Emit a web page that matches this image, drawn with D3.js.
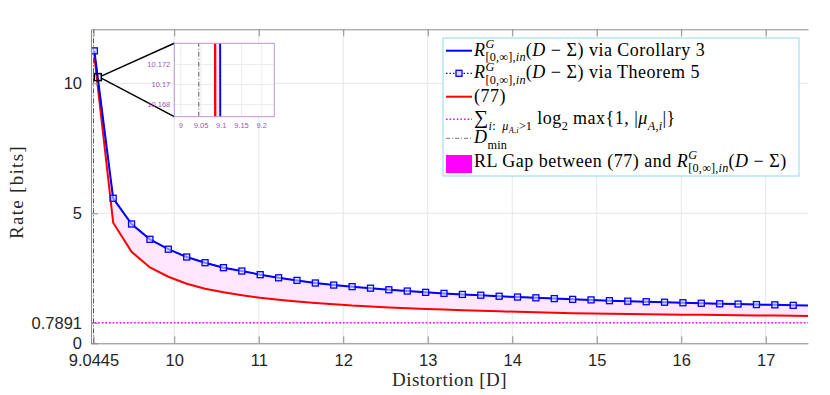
<!DOCTYPE html>
<html><head><meta charset="utf-8">
<script src="https://cdn.jsdelivr.net/npm/d3@7"></script>
<style>body{margin:0;background:#fff} svg{display:block} text{white-space:pre}</style>
</head><body>
<svg id="chart" width="830" height="395"></svg>
<script>
// ---------- data ----------
const distortion = [9.055, 9.2775, 9.495, 9.7125, 9.93, 10.1475, 10.365, 10.5825, 10.80, 11.0175,
  11.235, 11.4525, 11.67, 11.8875, 12.105, 12.3225, 12.54, 12.7575, 12.975, 13.1925,
  13.41, 13.6275, 13.845, 14.0625, 14.28, 14.4975, 14.715, 14.9325, 15.15, 15.3675,
  15.585, 15.8025, 16.02, 16.2375, 16.455, 16.6725, 16.89, 17.1075, 17.325, 17.5];
const rateCorollary3 = [11.25, 5.58, 4.59, 4.00, 3.62, 3.32, 3.10, 2.91, 2.78, 2.64,
  2.52, 2.42, 2.32, 2.24, 2.18, 2.12, 2.06, 2.01, 1.96, 1.92,
  1.88, 1.85, 1.81, 1.78, 1.75, 1.72, 1.69, 1.67, 1.64, 1.62,
  1.60, 1.58, 1.56, 1.54, 1.52, 1.51, 1.49, 1.48, 1.46, 1.45];
const theorem5Distortion = distortion.slice(0, 39);
const rateTheorem5 = rateCorollary3.slice(0, 39);
const rate77 = [11.03, 4.64, 3.52, 2.92, 2.56, 2.29, 2.10, 1.96, 1.85, 1.75,
  1.68, 1.61, 1.55, 1.50, 1.45, 1.42, 1.38, 1.35, 1.32, 1.30,
  1.27, 1.25, 1.23, 1.21, 1.19, 1.18, 1.16, 1.15, 1.14, 1.13,
  1.12, 1.11, 1.10, 1.10, 1.09, 1.08, 1.07, 1.07, 1.06, 1.05];
const unstableSum = 0.7891;
const dMin = 9.0445;
const xTicks = [9.0445, 10, 11, 12, 13, 14, 15, 16, 17];
const xTickLabels = ["9.0445", "10", "11", "12", "13", "14", "15", "16", "17"];
const yTicks = [0, 0.7891, 5, 10];
const yTickLabels = ["0", "0.7891", "5", "10"];
const insetXTicks = [9, 9.05, 9.1, 9.15, 9.2];
const insetXLabels = ["9", "9.05", "9.1", "9.15", "9.2"];
const insetYTicks = [10.168, 10.17, 10.172];
const insetYLabels = ["10.168", "10.17", "10.172"];
const zoomCenter = [9.095, 10.24];

// ---------- setup ----------
const svg = d3.select("#chart");
const L = 91, R = 808, T = 29.3, B = 343.3;
const x = d3.scaleLinear().domain([9.015, 17.5]).range([L, R]);
const y = d3.scaleLinear().domain([0, 12.08]).range([B, T]);
const axisCol = "#8c8c8c", textCol = "#262626", gridCol = "#e6e6e6";

svg.append("rect").attr("width", 830).attr("height", 395).attr("fill", "#fff");
const defs = svg.append("defs");
defs.append("clipPath").attr("id", "clipMain").append("rect")
  .attr("x", L).attr("y", T).attr("width", R - L).attr("height", B - T);

// grid
const grid = svg.append("g");
grid.selectAll(".gx").data(xTicks).join("line")
  .attr("x1", d => x(d)).attr("x2", d => x(d)).attr("y1", T).attr("y2", B)
  .attr("stroke", gridCol).attr("stroke-width", 1);
grid.selectAll(".gy").data(yTicks).join("line")
  .attr("x1", L).attr("x2", R).attr("y1", d => y(d)).attr("y2", d => y(d))
  .attr("stroke", gridCol).attr("stroke-width", 1);

const rows = distortion.map((D, i) => ({D, rc: rateCorollary3[i], r77: rate77[i]}));
const marks = theorem5Distortion.map((D, i) => ({D, r: rateTheorem5[i]}));

function drawData(g, xs, ys, opts) {
  g.append("path").datum(rows)
    .attr("d", d3.area().x(d => xs(d.D)).y0(d => ys(d.r77)).y1(d => ys(d.rc)))
    .attr("fill", "#ffe6ff").attr("stroke", "none");
  g.append("line").attr("x1", xs.range()[0]).attr("x2", xs.range()[1])
    .attr("y1", ys(unstableSum)).attr("y2", ys(unstableSum))
    .attr("stroke", "#ff00ff").attr("stroke-width", 1.6).attr("stroke-dasharray", "1.6,2");
  g.append("line").attr("x1", xs(dMin)).attr("x2", xs(dMin))
    .attr("y1", ys.range()[0]).attr("y2", ys.range()[1])
    .attr("stroke", "#333").attr("stroke-width", 0.8).attr("stroke-dasharray", "5,2,1,2");
  g.append("path").datum(rows)
    .attr("d", d3.line().x(d => xs(d.D)).y(d => ys(d.r77)))
    .attr("fill", "none").attr("stroke", "#ff0000").attr("stroke-width", opts.rw);
  g.append("path").datum(rows)
    .attr("d", d3.line().x(d => xs(d.D)).y(d => ys(d.rc)))
    .attr("fill", "none").attr("stroke", "#0000ff").attr("stroke-width", opts.bw);
  g.append("path").datum(marks)
    .attr("d", d3.line().x(d => xs(d.D)).y(d => ys(d.r)))
    .attr("fill", "none").attr("stroke", "#0000ff").attr("stroke-width", 1.2).attr("stroke-dasharray", "1.5,2");
  if (opts.markers) {
    g.selectAll(".mk").data(marks).join("rect")
      .attr("x", d => xs(d.D) - 3).attr("y", d => ys(d.r) - 3)
      .attr("width", 6).attr("height", 6)
      .attr("fill", "#dcdcff").attr("fill-opacity", 0.6)
      .attr("stroke", "#0000ff").attr("stroke-width", 1.3);
  }
}

const main = svg.append("g").attr("clip-path", "url(#clipMain)");
drawData(main, x, y, {rw: 2, bw: 2, markers: true});

// axes
const fontSans = "'Liberation Sans', Arial, sans-serif";
const xAxis = svg.append("g").attr("transform", `translate(0,${B})`)
  .call(d3.axisBottom(x).tickValues(xTicks).tickFormat((d, i) => xTickLabels[i])
    .tickSizeInner(-7).tickSizeOuter(0).tickPadding(11));
const topAxis = svg.append("g").attr("transform", `translate(0,${T})`)
  .call(d3.axisTop(x).tickValues(xTicks).tickFormat("").tickSizeInner(-7).tickSizeOuter(0));
const yAxis = svg.append("g").attr("transform", `translate(${L},0)`)
  .call(d3.axisLeft(y).tickValues(yTicks).tickFormat((d, i) => yTickLabels[i])
    .tickSizeInner(-7).tickSizeOuter(0).tickPadding(9));
[xAxis, topAxis, yAxis].forEach(a => {
  a.select(".domain").attr("stroke", axisCol).attr("stroke-width", 1);
  a.selectAll(".tick line").attr("stroke", axisCol);
  a.selectAll(".tick text").attr("fill", textCol).style("font-family", fontSans).style("font-size", "16.5px");
});

const fontSerif = "'Liberation Serif', 'Times New Roman', serif";
svg.append("text").attr("x", (L + R) / 2).attr("y", 386).attr("text-anchor", "middle")
  .style("font-family", fontSerif).style("font-size", "19px").style("letter-spacing", "0.5px")
  .attr("fill", textCol).text("Distortion [D]");
svg.append("text").attr("transform", `translate(23,192) rotate(-90)`).attr("text-anchor", "middle")
  .style("font-family", fontSerif).style("font-size", "19px").style("letter-spacing", "1.3px")
  .attr("fill", textCol).text("Rate [bits]");

// ---------- inset ----------
const iL = 174.3, iR = 274.3, iT = 43.3, iB = 116.7;
const xi = d3.scaleLinear().domain([8.984, 9.231]).range([iL, iR]);
const yi = d3.scaleLinear().domain([10.1668, 10.1741]).range([iB, iT]);
// zoom box & connectors
const zx = x(zoomCenter[0]), zy = y(zoomCenter[1]);
svg.append("line").attr("x1", zx + 3.5).attr("y1", zy - 1).attr("x2", iL).attr("y2", iT)
  .attr("stroke", "#000").attr("stroke-width", 1.5);
svg.append("line").attr("x1", zx + 3.5).attr("y1", zy + 1).attr("x2", iL).attr("y2", iB)
  .attr("stroke", "#000").attr("stroke-width", 1.5);
svg.append("rect").attr("x", zx - 3.5).attr("y", zy - 3.5).attr("width", 7).attr("height", 7)
  .attr("fill", "none").attr("stroke", "#000").attr("stroke-width", 1.5);

defs.append("clipPath").attr("id", "clipInset").append("rect")
  .attr("x", iL).attr("y", iT).attr("width", iR - iL).attr("height", iB - iT);
svg.append("rect").attr("x", iL).attr("y", iT).attr("width", iR - iL).attr("height", iB - iT).attr("fill", "#fff");
const ig = svg.append("g");
ig.selectAll(".igx").data(insetXTicks).join("line")
  .attr("x1", d => xi(d)).attr("x2", d => xi(d)).attr("y1", iT).attr("y2", iB)
  .attr("stroke", "#ececec");
ig.selectAll(".igy").data(insetYTicks).join("line")
  .attr("x1", iL).attr("x2", iR).attr("y1", d => yi(d)).attr("y2", d => yi(d))
  .attr("stroke", "#ececec");
const insetData = svg.append("g").attr("clip-path", "url(#clipInset)");
drawData(insetData, xi, yi, {rw: 2.3, bw: 1.8, markers: true});
svg.append("rect").attr("x", iL).attr("y", iT).attr("width", iR - iL).attr("height", iB - iT)
  .attr("fill", "none").attr("stroke", "#bf94d4").attr("stroke-width", 1);
const insetCol = "#9b59b6";
svg.selectAll(".ixl").data(insetXTicks).join("text")
  .attr("x", d => xi(d)).attr("y", iB + 11).attr("text-anchor", "middle")
  .style("font-family", fontSans).style("font-size", "7.5px").attr("fill", insetCol)
  .text((d, i) => insetXLabels[i]);
svg.selectAll(".iyl").data(insetYTicks).join("text")
  .attr("x", iL - 4).attr("y", d => yi(d) + 2.7).attr("text-anchor", "end")
  .style("font-family", fontSans).style("font-size", "7.5px").attr("fill", insetCol)
  .text((d, i) => insetYLabels[i]);

// ---------- legend ----------
const Rsym = [{s: "R", i: 1}, {sup: [{s: "G", i: 1}], sub: ["[0,", "∞", "],", {s: "in", i: 1}]}, "(", {s: "D", i: 1}, " − Σ)"];
const mu = [{s: "μ", i: 1}, {sub: [{s: "A", i: 1}, ",", {s: "i", i: 1}]}];
const legendItems = [
  {ly: 50.7, type: "line", color: "#0000ff", w: 2, dash: null, label: Rsym.concat([" via Corollary 3"])},
  {ly: 73.3, type: "marker", color: "#0000ff", w: 1.3, dash: "1.5,2", label: Rsym.concat([" via Theorem 5"])},
  {ly: 96.7, type: "line", color: "#ff0000", w: 2, dash: null, label: ["(77)"]},
  {ly: 119.3, type: "line", color: "#ff00ff", w: 1.6, dash: "1.6,2",
    label: [{s: "∑", big: 1}, {sub: [{s: "i", i: 1}, ":  "].concat(mu, [">1"])}, " log", {sub: ["2"]}, " max{1, |"].concat(mu, ["|}"])},
  {ly: 138.3, type: "line", color: "#555", w: 0.8, dash: "4,2,1,2", label: [{s: "D", i: 1}, {sub: ["min"]}]},
  {ly: 164, type: "patch", color: "#ff00ff", label: ["RL Gap between (77) and "].concat(Rsym)}
];

const lg = svg.append("g");
lg.append("rect").attr("x", 443).attr("y", 38).attr("width", 356).attr("height", 138)
  .attr("fill", "#fff").attr("stroke", "#8fd9f2").attr("stroke-width", 1);

function mathText(g, x0, y0, items, size) {
  let cx = x0;
  items.forEach(it => {
    if (typeof it === "string") it = {s: it};
    if (it.sup || it.sub) {
      const s = size * 0.68;
      let w = 0;
      if (it.sup) w = Math.max(w, mathText(g, cx, y0 - size * 0.42, it.sup, s) - cx);
      if (it.sub) w = Math.max(w, mathText(g, cx, y0 + size * 0.3, it.sub, s) - cx);
      cx += w;
    } else {
      const fs = it.big ? size * 1.1 : size;
      const t = g.append("text").attr("x", cx).attr("y", y0)
        .attr("xml:space", "preserve")
        .style("font-family", fontSerif).style("font-size", fs + "px")
        .style("letter-spacing", (size >= 15 ? 0.5 : 0.2) + "px")
        .style("font-style", it.i ? "italic" : "normal")
        .attr("fill", "#000").text(it.s);
      cx += t.node().getComputedTextLength();
    }
  });
  return cx;
}

legendItems.forEach(it => {
  if (it.type === "patch") {
    lg.append("rect").attr("x", 446).attr("y", it.ly - 9).attr("width", 26).attr("height", 18)
      .attr("fill", it.color);
  } else {
    const ln = lg.append("line").attr("x1", 446).attr("x2", 472).attr("y1", it.ly).attr("y2", it.ly)
      .attr("stroke", it.color).attr("stroke-width", it.w);
    if (it.dash) ln.attr("stroke-dasharray", it.dash);
    if (it.type === "marker") {
      lg.append("rect").attr("x", 456).attr("y", it.ly - 3).attr("width", 6).attr("height", 6)
        .attr("fill", "#dcdcff").attr("stroke", it.color).attr("stroke-width", 1.3);
    }
  }
  mathText(lg, 474, it.ly + (it.type === "patch" ? 3 : 5), it.label, 18);
});
</script>
</body></html>
